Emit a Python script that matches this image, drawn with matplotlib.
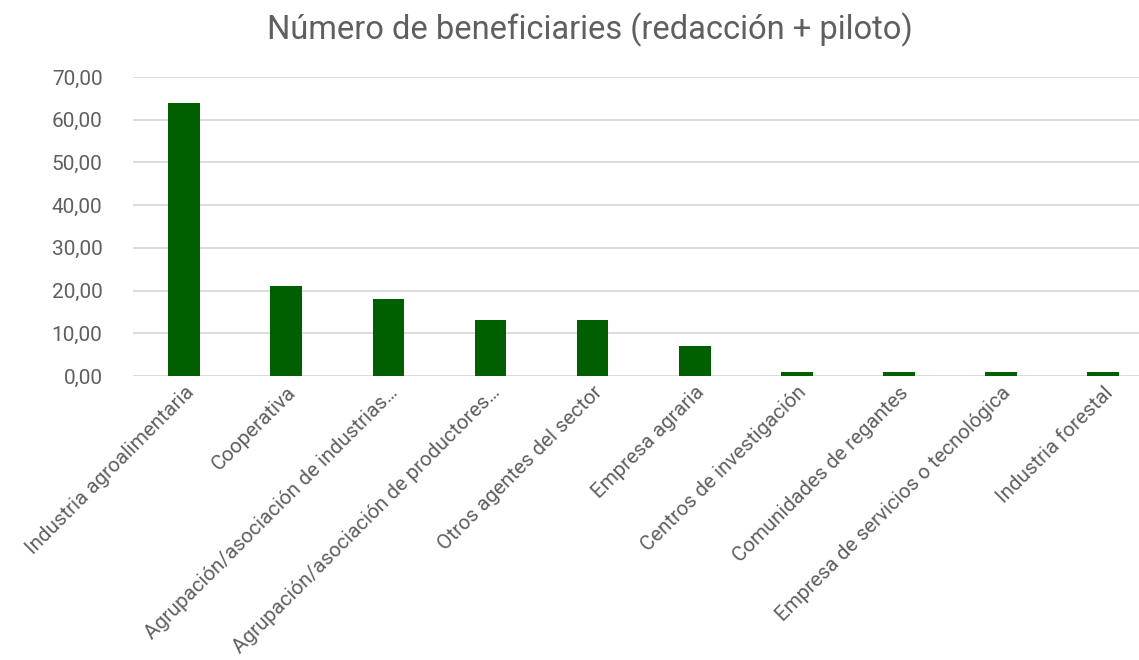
import matplotlib.pyplot as plt
from matplotlib.ticker import FuncFormatter

plt.rcParams['font.family'] = ['Roboto', 'DejaVu Sans']

categorias = [
    "Industria agroalimentaria",
    "Cooperativa",
    "Agrupación/asociación de industrias…",
    "Agrupación/asociación de productores…",
    "Otros agentes del sector",
    "Empresa agraria",
    "Centros de investigación",
    "Comunidades de regantes",
    "Empresa de servicios o tecnológica",
    "Industria forestal",
]
beneficiarios = [64, 21, 18, 13, 13, 7, 1, 1, 1, 1]
yticks = [0, 10, 20, 30, 40, 50, 60, 70]

fig = plt.figure(figsize=(11.39, 6.6), dpi=100)
ax = fig.add_axes([0.1168, 0.4303, 0.8832, 0.4530])

x = range(len(categorias))
ax.bar(x, beneficiarios, width=0.31, color="#005f00", zorder=3)

ax.set_xlim(-0.5, 9.35)
ax.set_ylim(0, 70)
ax.set_yticks(yticks)
ax.yaxis.set_major_formatter(FuncFormatter(lambda v, p: f"{v:.2f}".replace(".", ",")))
ax.grid(axis="y", color="#d9d9d9", linewidth=1.3, zorder=0)
for s in ax.spines.values():
    s.set_visible(False)

ax.set_xticks(list(x))
ax.set_xticklabels(categorias, rotation=45, ha="right", rotation_mode="anchor",
                   fontsize=14.8, color="#5f5f5f")
ax.tick_params(axis="x", length=0, pad=5)
ax.tick_params(axis="y", length=0, pad=22, labelsize=15, labelcolor="#5f5f5f")

fig.text(0.518, 0.955, "Número de beneficiaries (redacción + piloto)",
         ha="center", va="center", fontsize=23.5, color="#5f5f5f")

fig.savefig("out.png", dpi=100)
